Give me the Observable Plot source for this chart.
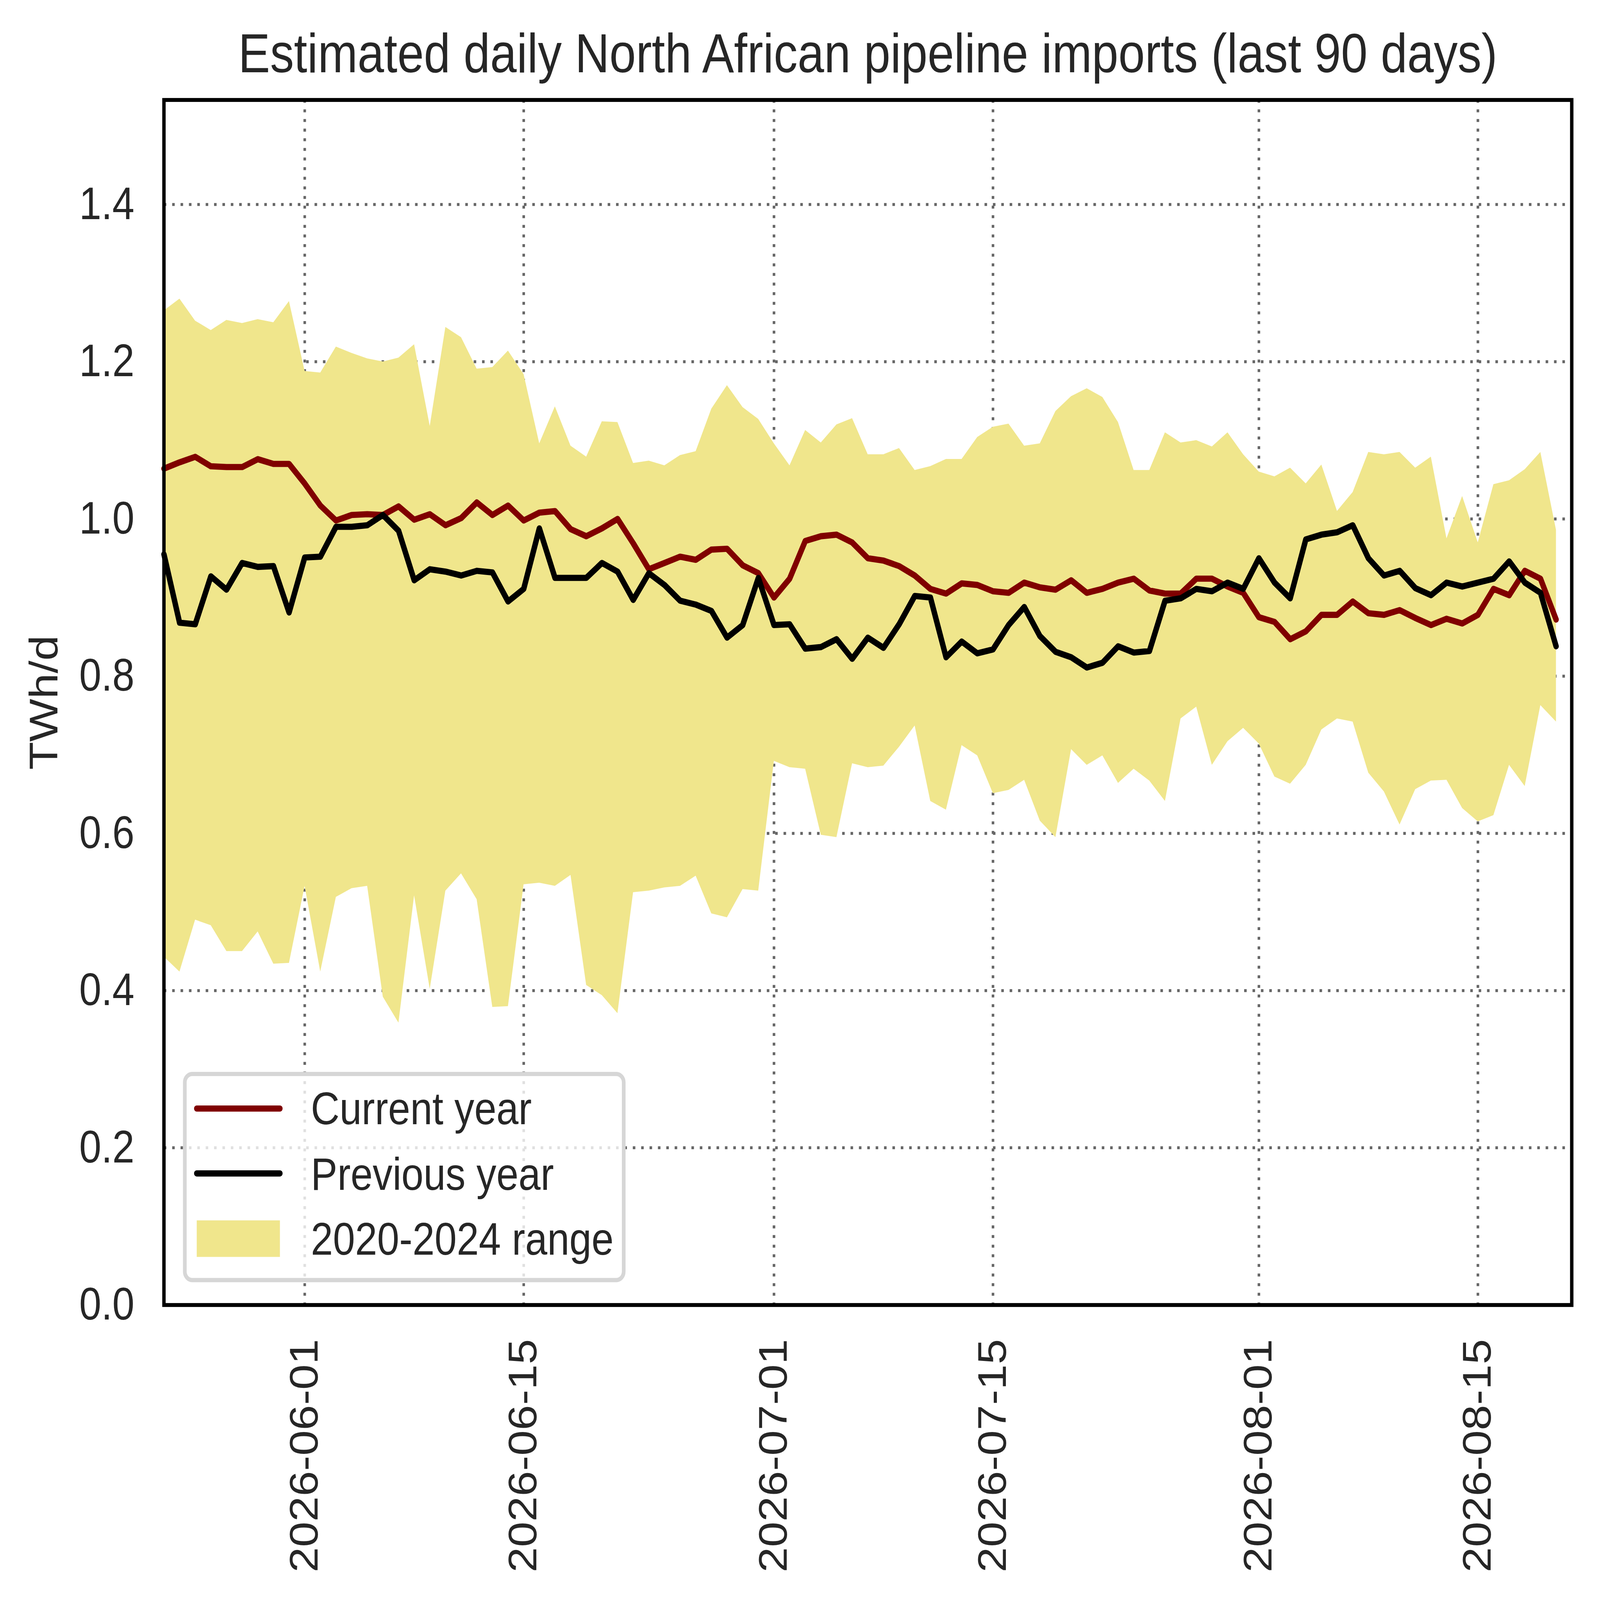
<!DOCTYPE html>
<html>
<head>
<meta charset="utf-8">
<script src="https://cdn.jsdelivr.net/npm/d3@7"></script>
<script src="https://cdn.jsdelivr.net/npm/@observablehq/plot@0.6"></script>
<style>
  html, body { margin: 0; padding: 0; background: #fff; overflow: hidden; }
  #outer { position: relative; overflow: hidden; }
  #wrap { position: absolute; left: 0; top: 0; width: 5636px; height: 4906px; transform-origin: 0 0; }
  #legend { position: absolute; left: 0; top: 0; pointer-events: none; }
</style>
</head>
<body>
<div id="outer"><div id="wrap"></div></div>
<script>
const titleText = "Estimated daily North African pipeline imports (last 90 days)";
const yLabel = "TWh/d";
const seriesNames = ["Current year", "Previous year", "2020-2024 range"];

const startDate = "2026-05-23";
const endDate = "2026-08-21";
const dates = d3.utcDay.range(new Date(startDate), new Date(endDate)); // 90 daily dates

const current = [
  1.064, 1.072, 1.079, 1.067, 1.066, 1.066, 1.076, 1.070, 1.070,
  1.045, 1.017, 0.998, 1.005, 1.006, 1.005, 1.016, 0.999, 1.006, 0.992,
  1.001, 1.021, 1.005, 1.017, 0.998, 1.008, 1.010, 0.987, 0.978, 0.988,
  1.000, 0.969, 0.936, 0.944, 0.952, 0.948, 0.961, 0.962, 0.941, 0.931,
  0.900, 0.924, 0.972, 0.978, 0.980, 0.970, 0.950, 0.947, 0.940, 0.928,
  0.911, 0.905, 0.918, 0.916, 0.908, 0.906, 0.919, 0.913, 0.910, 0.922,
  0.906, 0.911, 0.919, 0.924, 0.909, 0.905, 0.905, 0.924, 0.924, 0.914, 0.906,
  0.875, 0.869, 0.847, 0.857, 0.878, 0.878, 0.895, 0.880, 0.878, 0.884,
  0.874, 0.865, 0.873, 0.867, 0.878, 0.911, 0.903, 0.934, 0.924, 0.872
];

const previous = [
  0.955, 0.868, 0.866, 0.927, 0.910, 0.944, 0.939, 0.940, 0.881,
  0.951, 0.952, 0.990, 0.990, 0.992, 1.005, 0.985, 0.922, 0.936, 0.933,
  0.928, 0.934, 0.932, 0.895, 0.911, 0.988, 0.925, 0.925, 0.925, 0.944,
  0.933, 0.897, 0.931, 0.916, 0.896, 0.891, 0.883, 0.849, 0.865, 0.925,
  0.865, 0.866, 0.835, 0.837, 0.847, 0.822, 0.849, 0.836, 0.866, 0.902,
  0.900, 0.824, 0.844, 0.829, 0.834, 0.865, 0.888, 0.851, 0.831, 0.824,
  0.811, 0.817, 0.838, 0.830, 0.832, 0.896, 0.899, 0.911, 0.908, 0.919, 0.911,
  0.950, 0.919, 0.899, 0.974, 0.980, 0.983, 0.992, 0.950, 0.928, 0.934,
  0.912, 0.903, 0.919, 0.914, 0.919, 0.924, 0.946, 0.919, 0.906, 0.838
];

const upper = [
  1.265, 1.280, 1.252, 1.240, 1.253, 1.249, 1.254, 1.250, 1.277,
  1.188, 1.186, 1.219, 1.211, 1.204, 1.200, 1.205, 1.222, 1.118, 1.244,
  1.231, 1.191, 1.193, 1.214, 1.184, 1.096, 1.143, 1.093, 1.079, 1.124,
  1.123, 1.071, 1.074, 1.068, 1.081, 1.086, 1.140, 1.170, 1.142, 1.127,
  1.096, 1.068, 1.113, 1.097, 1.120, 1.128, 1.082, 1.082, 1.090, 1.062,
  1.067, 1.076, 1.076, 1.104, 1.117, 1.121, 1.093, 1.096, 1.137, 1.156,
  1.166, 1.155, 1.123, 1.062, 1.062, 1.110, 1.097, 1.100, 1.092, 1.110, 1.082,
  1.060, 1.054, 1.065, 1.045, 1.069, 1.010, 1.034, 1.085, 1.082, 1.085,
  1.065, 1.079, 0.975, 1.029, 0.970, 1.044, 1.049, 1.063, 1.085, 0.986
];

const lower = [
  0.443, 0.424, 0.490, 0.483, 0.450, 0.450, 0.475, 0.434, 0.435,
  0.533, 0.424, 0.519, 0.530, 0.533, 0.392, 0.359, 0.521, 0.402, 0.527,
  0.549, 0.516, 0.379, 0.380, 0.535, 0.537, 0.533, 0.547, 0.407, 0.394,
  0.371, 0.525, 0.527, 0.531, 0.533, 0.546, 0.498, 0.493, 0.529, 0.527,
  0.692, 0.684, 0.682, 0.598, 0.595, 0.689, 0.684, 0.686, 0.710, 0.737,
  0.641, 0.630, 0.712, 0.699, 0.651, 0.655, 0.668, 0.616, 0.595, 0.707,
  0.687, 0.699, 0.664, 0.682, 0.667, 0.641, 0.746, 0.761, 0.687, 0.717, 0.734,
  0.714, 0.672, 0.663, 0.687, 0.732, 0.746, 0.742, 0.677, 0.653, 0.611,
  0.656, 0.667, 0.668, 0.632, 0.615, 0.623, 0.687, 0.660, 0.763, 0.742
];

const xTickLabels = ["2026-06-01", "2026-06-15", "2026-07-01", "2026-07-15", "2026-08-01", "2026-08-15"];
const yTicks = [0, 0.2, 0.4, 0.6, 0.8, 1.0, 1.2, 1.4];
const yMax = 1.533;

const xTicks = xTickLabels.map(s => new Date(s));
const data = dates.map((date, i) => ({
  date, current: current[i], previous: previous[i], lower: lower[i], upper: upper[i]
}));

const W = 5636, H = 4906;
const mL = 577, mR = 100, mT = 306, mB = 905;
const textColor = "#262626";
const font = "'Liberation Sans', Arial, sans-serif";
const gridStyle = {stroke: "#666666", strokeOpacity: 1, strokeWidth: 9, strokeDasharray: "9,20.5"};

const chart = Plot.plot({
  width: W,
  height: H,
  marginLeft: mL,
  marginRight: mR,
  marginTop: mT,
  marginBottom: mB,
  style: {fontFamily: font, fontSize: "140px", color: textColor, background: "white", overflow: "visible", maxWidth: "none"},
  x: {type: "utc", domain: [new Date(startDate), new Date(endDate)]},
  y: {domain: [0, yMax]},
  marks: [
    Plot.gridX({ticks: xTicks, ...gridStyle}),
    Plot.gridY({ticks: yTicks, ...gridStyle}),
    Plot.areaY(data, {x: "date", y1: "lower", y2: "upper", fill: "#F0E68C", curve: "linear"}),
    Plot.line(data, {x: "date", y: "current", stroke: "#800000", strokeWidth: 19, curve: "linear"}),
    Plot.line(data, {x: "date", y: "previous", stroke: "#000000", strokeWidth: 19, curve: "linear"}),
    Plot.frame({stroke: "black", strokeWidth: 12}),
    Plot.axisY({ticks: yTicks, tickFormat: d3.format(".1f"), tickSize: 0, tickPadding: 104,
                fontSize: 140, fill: textColor, label: null}),
    Plot.axisX({ticks: xTicks, tickFormat: d3.utcFormat("%Y-%m-%d"), tickSize: 0, tickPadding: 104,
                tickRotate: -90, fontSize: 140, fill: textColor, label: null}),
    Plot.text([titleText], {text: d => d, frameAnchor: "top", dy: -85, lineAnchor: "bottom",
                fontSize: 168, fill: textColor}),
    Plot.text([yLabel], {text: d => d, frameAnchor: "left", dx: -375, rotate: -90,
                lineAnchor: "bottom", textAnchor: "middle", fontSize: 140, fill: textColor})
  ]
});

const outer = document.getElementById("outer");
const wrap = document.getElementById("wrap");
wrap.appendChild(chart);

// Legend (overlay)
const ns = "http://www.w3.org/2000/svg";
const leg = document.createElementNS(ns, "svg");
leg.setAttribute("id", "legend");
leg.setAttribute("width", W);
leg.setAttribute("height", H);
leg.style.fontFamily = font;
function el(tag, attrs, text) {
  const e = document.createElementNS(ns, tag);
  for (const k in attrs) e.setAttribute(k, attrs[k]);
  if (text != null) e.textContent = text;
  leg.appendChild(e);
  return e;
}
el("rect", {x: 651, y: 3293, width: 1546, height: 632, rx: 26, ry: 26,
            fill: "rgba(255,255,255,0.8)", stroke: "#d6d6d6", "stroke-width": 13});
el("line", {x1: 693, x2: 986, y1: 3399, y2: 3399, stroke: "#800000", "stroke-width": 19, "stroke-linecap": "round"});
el("line", {x1: 693, x2: 986, y1: 3598, y2: 3598, stroke: "#000000", "stroke-width": 19, "stroke-linecap": "round"});
el("rect", {x: 693, y: 3742, width: 293, height: 112, fill: "#F0E68C"});
el("text", {x: 1095, y: 3447, "font-size": 140, fill: textColor}, seriesNames[0]);
el("text", {x: 1095, y: 3648, "font-size": 140, fill: textColor}, seriesNames[1]);
el("text", {x: 1095, y: 3847, "font-size": 140, fill: textColor}, seriesNames[2]);
wrap.appendChild(leg);

// The browser viewport may be smaller than the requested 5636x4906 window;
// stretch the figure so it fills the whole viewport exactly.
function fit() {
  const vw = document.documentElement.clientWidth || window.innerWidth;
  const vh = document.documentElement.clientHeight || window.innerHeight;
  const sx = Math.min(1, vw / W), sy = Math.min(1, vh / H);
  outer.style.width = (W * sx) + "px";
  outer.style.height = (H * sy) + "px";
  wrap.style.transform = (sx < 1 || sy < 1) ? `scale(${sx}, ${sy})` : "none";
}
fit();
window.addEventListener("resize", fit);
</script>
</body>
</html>
